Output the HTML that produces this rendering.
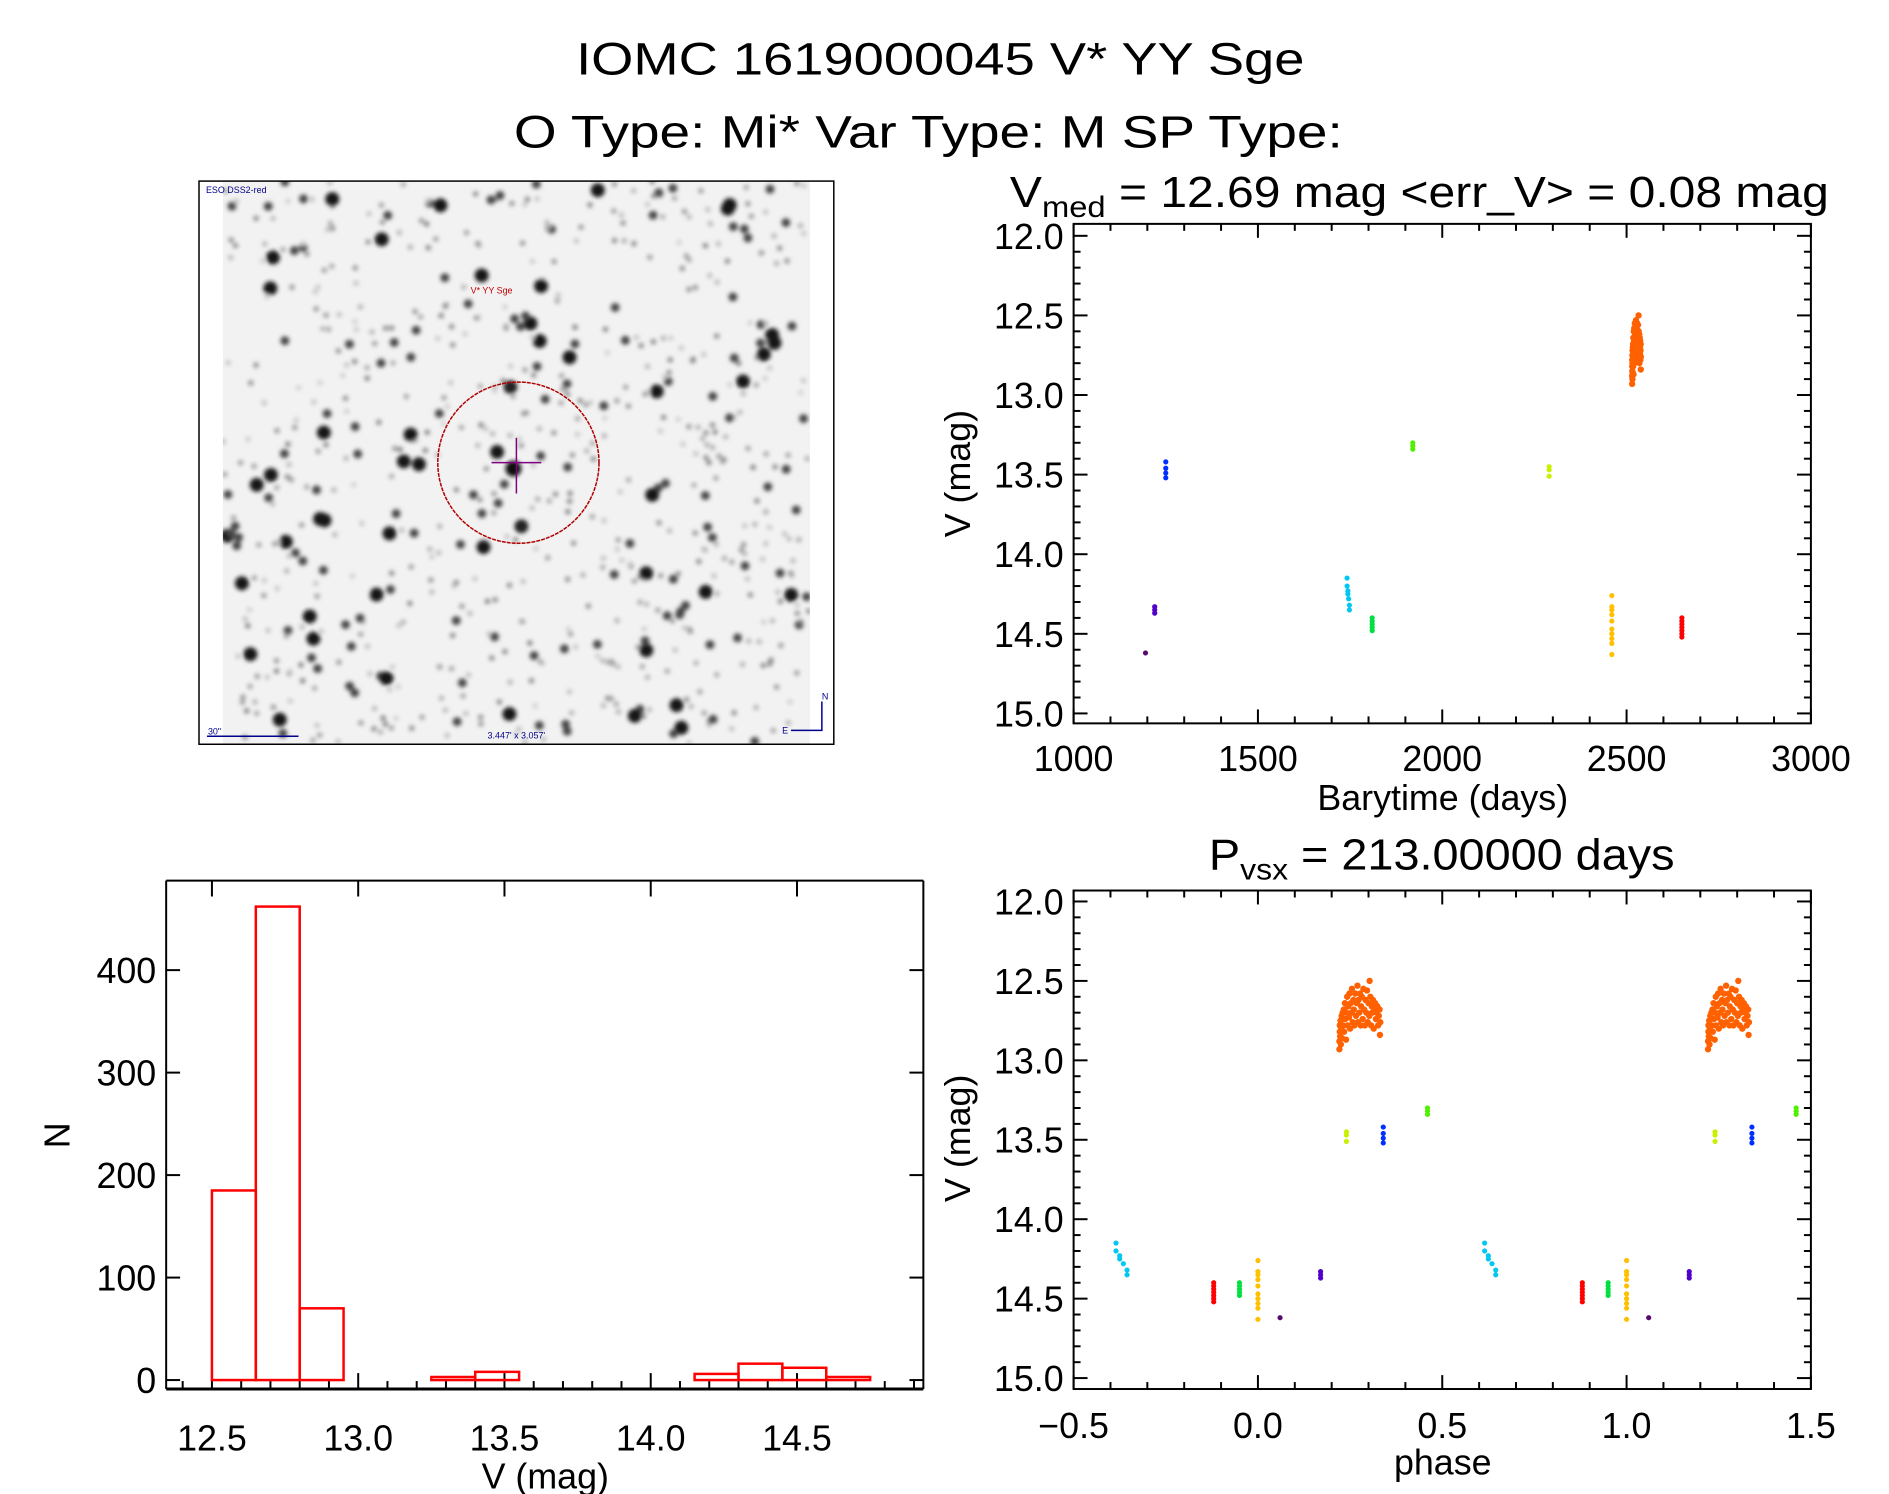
<!DOCTYPE html>
<html><head><meta charset="utf-8"><style>
html,body{margin:0;padding:0;background:#fff;}
svg{display:block;font-family:"Liberation Sans",sans-serif;}
</style></head><body>
<svg id="fig" xmlns="http://www.w3.org/2000/svg" width="1889" height="1494" viewBox="0 0 1889 1494">
<rect width="1889" height="1494" fill="#fff"/>
<g transform="scale(0.995)">
<text x="945" y="75" font-size="46" text-anchor="middle" textLength="732" lengthAdjust="spacingAndGlyphs">IOMC 1619000045    V* YY Sge</text>
<text x="933" y="148" font-size="46" text-anchor="middle" textLength="833" lengthAdjust="spacingAndGlyphs">O Type: Mi*   Var Type: M   SP Type:</text>
<g id="img"></g>
<g id="lc"></g>
<g id="ph"></g>
<g id="hist"></g>
</g>
</svg>
<script>
// ---- data ----
const groupColors = ['#5a0a6e','#5000c8','#0030ff','#00c8f0','#00e040','#50f000','#c8f000','#ffc000','#ff0000'];
const groupTimes  = [1195,1220,1250,1745,1810,1920,2290,2460,2650];
const groupPhases = [0.06,0.17,0.34,0.63,0.95,0.46,0.24,0.0,0.88];
const groupMags = [
 [14.62],
 [14.33,14.35,14.37],
 [13.42,13.46,13.49,13.52],
 [14.15,14.20,14.23,14.25,14.28,14.32,14.35],
 [14.40,14.42,14.44,14.46,14.48],
 [13.30,13.32,13.34],
 [13.45,13.47,13.51],
 [14.26,14.33,14.35,14.38,14.42,14.47,14.50,14.53,14.56,14.63],
 [14.40,14.42,14.44,14.46,14.48,14.50,14.52]
];
const cyanOffsets = [-0.015,-0.015,-0.005,-0.005,0.005,0.015,0.015];
const orangePhase = [0.221,0.221,0.222,0.222,0.223,0.224,0.225,0.226,0.227,0.228,0.23,0.231,0.233,0.234,0.236,0.237,0.239,0.24,0.242,0.243,0.245,0.247,0.248,0.25,0.252,0.254,0.255,0.257,0.259,0.26,0.262,0.264,0.266,0.268,0.27,0.271,0.273,0.275,0.277,0.279,0.28,0.282,0.284,0.286,0.288,0.29,0.292,0.294,0.296,0.298,0.3,0.302,0.303,0.305,0.307,0.309,0.31,0.312,0.314,0.316,0.318,0.32,0.322,0.324,0.326,0.328,0.33,0.331,0.332];
const orangeMag = [12.93,12.88,12.82,12.78,12.85,12.75,12.9,12.8,12.72,12.86,12.7,12.78,12.68,12.82,12.64,12.74,12.87,12.7,12.6,12.78,12.66,12.73,12.58,12.8,12.64,12.7,12.55,12.76,12.62,12.68,12.78,12.58,12.72,12.64,12.53,12.76,12.62,12.7,12.58,12.78,12.66,12.6,12.74,12.55,12.68,12.78,12.62,12.7,12.56,12.76,12.64,12.72,12.5,12.6,12.78,12.66,12.7,12.62,12.8,12.68,12.64,12.74,12.7,12.66,12.78,12.72,12.68,12.84,12.76];
const orangeT0 = 2468, period = 213;
const histMin = 12.5, histBinWidth = 0.15;
const histCounts = [185,462,70,0,0,3,8,0,0,0,0,6,16,12,3];
const lcXTicks = [1000,1500,2000,2500,3000];
const magTicks = [12.0,12.5,13.0,13.5,14.0,14.5,15.0];
const phTicks = [-0.5,0.0,0.5,1.0,1.5];
const histXTicks = [12.5,13.0,13.5,14.0,14.5];
const histYTicks = [0,100,200,300,400];

const NS='http://www.w3.org/2000/svg';
function el(parent,tag,attrs,text){const e=document.createElementNS(NS,tag);for(const k in attrs)e.setAttribute(k,attrs[k]);if(text!==undefined)e.textContent=text;parent.appendChild(e);return e;}
function fmtMag(v){return v.toFixed(1);}
function fmtPh(v){return (v<0?'\u2212':'')+Math.abs(v).toFixed(1);}

function axesBox(g,L,R,T,B){
  const r=el(g,'rect',{x:L,y:T,width:R-L,height:B-T,fill:'none',stroke:'#000','stroke-width':2});
  
  
}
function tick(g,x1,y1,x2,y2){el(g,'line',{x1,y1,x2,y2,stroke:'#000','stroke-width':2});}

function magAxis(g,L,R,T,B,yOf){
  for(let m=12.0;m<=15.001;m+=0.1){
    const y=yOf(m);const major=Math.abs(m*2-Math.round(m*2))<1e-6;const len=major?14:7;
    tick(g,L,y,L+len,y);tick(g,R,y,R-len,y);
  }
  magTicks.forEach(m=>{const t=el(g,'text',{x:L-10,y:yOf(m)+13,'font-size':36,'text-anchor':'end'},fmtMag(m));
    
    });
}
function dot(g,x,y,c,r){el(g,'circle',{cx:x,cy:y,r:r||2.6,fill:c});}

(function(){
  const g=document.getElementById('lc');
  const L=1079,R=1820,T=225,B=727;
  const xOf=t=>L+(t-1000)/2000*(R-L);
  const yOf=m=>237+(m-12)/3*(717-237);
  axesBox(g,L,R,T,B);
  for(let t=1000;t<=3000;t+=100){const x=xOf(t);const len=(t%500===0)?14:7;tick(g,x,B,x,B-len);tick(g,x,T,x,T+len);}
  lcXTicks.forEach(t=>{const e=el(g,'text',{x:xOf(t),y:775,'font-size':36,'text-anchor':'middle'},String(t));
    
    });
  magAxis(g,L,R,T,B,yOf);
  groupMags.forEach((ms,i)=>ms.forEach((m,j)=>{const off=i===3?cyanOffsets[j]*213:0;dot(g,xOf(groupTimes[i]+off),yOf(m),groupColors[i]);}));
  orangePhase.forEach((p,i)=>dot(g,xOf(orangeT0+p*period),yOf(orangeMag[i]),'#ff6000',3.2));
  const tt=el(g,'text',{x:1015,y:208,'font-size':44,textLength:823,lengthAdjust:'spacingAndGlyphs'});
  
  
  tt.innerHTML='V<tspan font-size="30" dy="10">med</tspan><tspan dy="-10"> = 12.69 mag &lt;err_V&gt; = 0.08 mag</tspan>';
  const xl=el(g,'text',{x:1450,y:814,'font-size':36,'text-anchor':'middle'},'Barytime (days)');
  
  
  const yl=el(g,'text',{x:0,y:0,'font-size':36,'text-anchor':'middle',transform:'translate(975,476) rotate(-90)'},'V (mag)');
  
  
})();

(function(){
  const g=document.getElementById('ph');
  const L=1079,R=1820,T=895,B=1396;
  const xOf=p=>L+(p+0.5)/2*(R-L);
  const yOf=m=>906+(m-12)/3*(1385-906);
  axesBox(g,L,R,T,B);
  for(let k=0;k<=20;k++){const p=-0.5+k*0.1;const x=xOf(p);const len=(k%5===0)?14:7;tick(g,x,B,x,B-len);tick(g,x,T,x,T+len);}
  phTicks.forEach(p=>{const e=el(g,'text',{x:xOf(p),y:1445,'font-size':36,'text-anchor':'middle'},fmtPh(p));
    
    });
  magAxis(g,L,R,T,B,yOf);
  function plotPh(p,m,c,r){[-1,0,1].forEach(s=>{const q=p+s;if(q>=-0.5&&q<=1.5)dot(g,xOf(q),yOf(m),c,r);});}
  groupMags.forEach((ms,i)=>ms.forEach((m,j)=>{const off=i===3?cyanOffsets[j]:0;plotPh(groupPhases[i]+off,m,groupColors[i]);}));
  orangePhase.forEach((p,i)=>plotPh(p,orangeMag[i],'#ff6000',3.2));
  const tt=el(g,'text',{x:1215,y:874,'font-size':44,textLength:468,lengthAdjust:'spacingAndGlyphs'});
  
  
  tt.innerHTML='P<tspan font-size="30" dy="10">vsx</tspan><tspan dy="-10"> = 213.00000 days</tspan>';
  const xl=el(g,'text',{x:1450,y:1482,'font-size':36,'text-anchor':'middle'},'phase');
  
  
  const yl=el(g,'text',{x:0,y:0,'font-size':36,'text-anchor':'middle',transform:'translate(975,1144) rotate(-90)'},'V (mag)');
  
  
})();

// ---- histogram ----
(function(){
  const g=document.getElementById('hist');
  const L=167,R=928,T=885,B=1396;
  const xOf=v=>213+(v-12.5)/0.5*147;
  const yOf=n=>1387-n/100*103;
  for(let k=0;k<=25;k++){const v=12.4+k*0.1;const x=xOf(v);if(x<L||x>R)continue;const major=(Math.round(v*10)%5===0);
    tick(g,x,B,x,B-(major?16:8));if(major)tick(g,x,T,x,T+16);}
  histCounts.forEach((c,i)=>{
    const b=histMin+i*histBinWidth;
    const x1=xOf(b),x2=xOf(b+histBinWidth),y=yOf(c);
    const r=el(g,'rect',{x:x1,y:y,width:x2-x1,height:yOf(0)-y,fill:'none',stroke:'#ff0000','stroke-width':2.5});
    
    
  });
  el(g,'line',{x1:L,y1:B,x2:R,y2:B,stroke:'#000','stroke-width':3});
  el(g,'line',{x1:L,y1:T,x2:R,y2:T,stroke:'#000','stroke-width':2});
  el(g,'line',{x1:L,y1:T,x2:L,y2:B,stroke:'#000','stroke-width':2});
  el(g,'line',{x1:R,y1:T,x2:R,y2:B,stroke:'#000','stroke-width':2});
  histYTicks.forEach(n=>{const y=yOf(n);tick(g,L,y,L+14,y);tick(g,R,y,R-14,y);
    const t=el(g,'text',{x:157,y:y+13,'font-size':36,'text-anchor':'end'},String(n));
    
    });
  histXTicks.forEach(v=>{const t=el(g,'text',{x:xOf(v),y:1458,'font-size':36,'text-anchor':'middle'},v.toFixed(1));
    
    });
  const xl=el(g,'text',{x:548,y:1496,'font-size':36,'text-anchor':'middle'},'V (mag)');
  
  
  const yl=el(g,'text',{x:0,y:0,'font-size':36,'text-anchor':'middle',transform:'translate(70,1141) rotate(-90)'},'N');
  
  
})();

// ---- sky image (decorative star field) ----
(function(){
  const g=document.getElementById('img');
  const defs=el(g,'defs',{});
  const f=el(defs,'filter',{id:'bl',x:'-50%',y:'-50%',width:'200%',height:'200%'});
  el(f,'feGaussianBlur',{stdDeviation:2.2});
  const cp=el(defs,'clipPath',{id:'ic'});el(cp,'rect',{x:224,y:182,width:590,height:566});
  el(g,'rect',{x:224,y:182,width:590,height:566,fill:'#f2f2f2'});
  const sg=el(g,'g',{'clip-path':'url(#ic)',filter:'url(#bl)'});
  let s=12345;const rnd=()=>{s=(s*1103515245+12345)%2147483648;return s/2147483648;};
  for(let i=0;i<700;i++){const x=224+rnd()*590,y=182+rnd()*566;const b=rnd();
    const r=b>0.93?7:(b>0.75?4.5:2.8);const gray=b>0.93?20:(b>0.75?70:Math.floor(130+rnd()*80));
    el(sg,'circle',{cx:x,cy:y,r:r,fill:`rgb(${gray},${gray},${gray})`});}
  el(sg,'circle',{cx:516,cy:471,r:8,fill:'#111'});
  el(sg,'circle',{cx:513,cy:389,r:7,fill:'#222'});
  el(sg,'circle',{cx:524,cy:529,r:7,fill:'#222'});
  el(g,'rect',{x:200,y:182,width:638,height:566,fill:'none',stroke:'#000','stroke-width':1.5});
  const c=el(g,'circle',{cx:521,cy:465,r:81,fill:'none',stroke:'#b00000','stroke-width':1.5,'stroke-dasharray':'4 1'});
  
  
  el(g,'line',{x1:494,y1:465,x2:544,y2:465,stroke:'#800080','stroke-width':1.5});
  el(g,'line',{x1:519,y1:440,x2:519,y2:496,stroke:'#800080','stroke-width':1.5});
  const l1=el(g,'text',{x:207,y:194,'font-size':9,fill:'#00008b'},'ESO DSS2-red');
  
  
  const l2=el(g,'text',{x:473,y:295,'font-size':9,fill:'#c00000'},'V* YY Sge');
  
  
  const l3=el(g,'text',{x:490,y:742,'font-size':9,fill:'#00008b'},'3.447\' x 3.057\'');
  
  
  el(g,'text',{x:209,y:738,'font-size':9,fill:'#00008b'},'30"');
  el(g,'line',{x1:208,y1:740,x2:300,y2:740,stroke:'#00008b','stroke-width':1.5});
  el(g,'polyline',{points:'795,734 826,734 826,705',fill:'none',stroke:'#00008b','stroke-width':1.5});
  el(g,'text',{x:826,y:703,'font-size':9,fill:'#00008b'},'N');
  el(g,'text',{x:786,y:737,'font-size':9,fill:'#00008b'},'E');
})();
</script>
</body></html>
